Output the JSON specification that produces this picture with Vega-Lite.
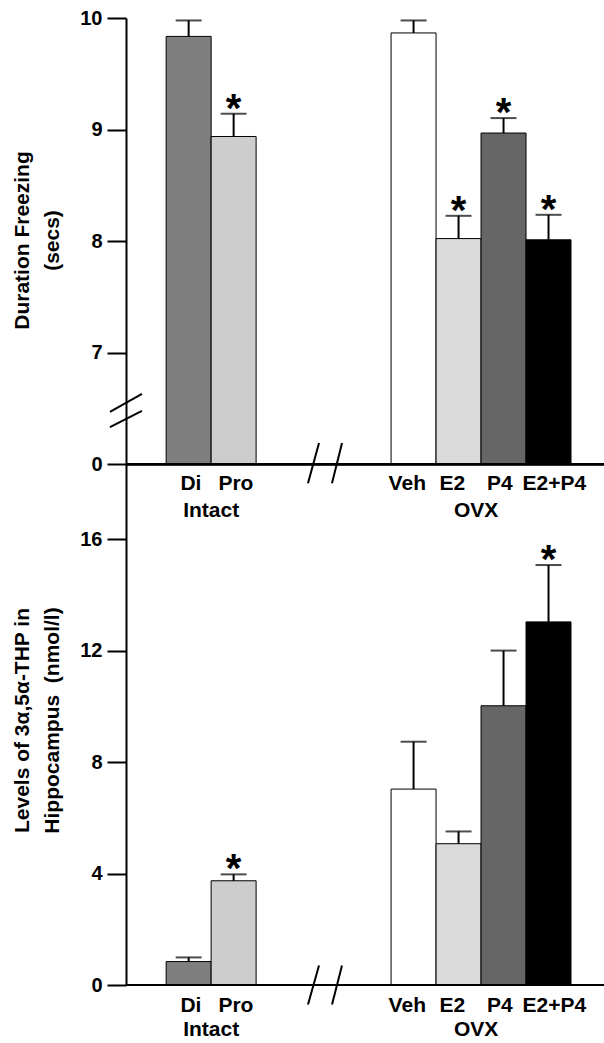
{
  "$schema": "https://vega.github.io/schema/vega-lite/v6.json",
  "width": 478,
  "height": 967,
  "autosize": {"type": "none"},
  "padding": {"left": 126, "top": 18, "right": 0, "bottom": 58},
  "background": "white",
  "config": {"view": {"stroke": null}, "font": "Liberation Sans"},
  "datasets": {
    "freeze": [
      {"cat": "Di", "mean": 9.835, "upper": 9.978, "sig": ""},
      {"cat": "Pro", "mean": 8.938, "upper": 9.142, "sig": "*"},
      {"cat": "Veh", "mean": 9.866, "upper": 9.978, "sig": ""},
      {"cat": "E2", "mean": 8.023, "upper": 8.227, "sig": "*"},
      {"cat": "P4", "mean": 8.969, "upper": 9.103, "sig": "*"},
      {"cat": "E2+P4", "mean": 8.012, "upper": 8.236, "sig": "*"}
    ],
    "thp": [
      {"cat": "Di", "mean": 0.84, "upper": 0.99, "sig": ""},
      {"cat": "Pro", "mean": 3.74, "upper": 3.97, "sig": "*"},
      {"cat": "Veh", "mean": 7.03, "upper": 8.73, "sig": ""},
      {"cat": "E2", "mean": 5.07, "upper": 5.51, "sig": ""},
      {"cat": "P4", "mean": 10.02, "upper": 12.0, "sig": ""},
      {"cat": "E2+P4", "mean": 13.03, "upper": 15.07, "sig": "*"}
    ]
  },
  "resolve": {"scale": {"y": "independent"}},
  "layer": [
    {
      "data": {"name": "freeze"},
      "layer": [
        {
          "mark": {"type": "bar", "stroke": "black", "strokeWidth": 1},
          "encoding": {
            "x": {"field": "cat", "type": "nominal", "axis": null,
              "scale": {"domain": ["Di", "Pro", "s1", "s2", "s3", "Veh", "E2", "P4", "E2+P4"], "paddingInner": 0, "paddingOuter": 0.813, "align": 0.549}},
            "y": {"field": "mean", "type": "quantitative",
              "scale": {"domain": [1.333, 10], "zero": false, "nice": false},
              "axis": {"orient": "left", "values": [6, 7, 8, 9, 10], "format": "d", "labelExpr": "datum.value == 6 ? '0' : datum.label",
                "title": ["Duration Freezing", "(secs)"], "titleX": -104, "titleY": 222, "titleAngle": -90, "titleAlign": "center", "titleBaseline": "middle",
                "titleFontSize": 21, "titleFontWeight": "bold", "titleLineHeight": 30, "titleColor": "black",
                "labelFontSize": 20, "labelFontWeight": "bold", "labelColor": "black", "labelPadding": 5,
                "tickSize": 19, "tickWidth": 2, "tickColor": "black", "domainColor": "black", "domainWidth": 2, "grid": false}},
            "y2": {"datum": 6},
            "color": {"field": "cat", "type": "nominal", "legend": null,
              "scale": {"domain": ["Di", "Pro", "Veh", "E2", "P4", "E2+P4"], "range": ["#7f7f7f", "#cdcdcd", "#ffffff", "#dadada", "#666666", "#000000"]}}
          }
        },
        {
          "mark": {"type": "rule", "strokeWidth": 2, "color": "black"},
          "encoding": {
            "x": {"field": "cat", "type": "nominal"},
            "y": {"field": "mean", "type": "quantitative"},
            "y2": {"field": "upper"}
          }
        },
        {
          "mark": {"type": "tick", "orient": "horizontal", "size": 26, "thickness": 2, "color": "black"},
          "encoding": {
            "x": {"field": "cat", "type": "nominal"},
            "y": {"field": "upper", "type": "quantitative"}
          }
        },
        {
          "mark": {"type": "text", "fontSize": 40, "fontWeight": "bold", "baseline": "alphabetic", "dy": 8, "color": "black"},
          "encoding": {
            "x": {"field": "cat", "type": "nominal"},
            "y": {"field": "upper", "type": "quantitative"},
            "text": {"field": "sig"}
          }
        },
        {
          "mark": {"type": "rule", "strokeWidth": 2, "color": "black"},
          "encoding": {"y": {"datum": 6}}
        },
        {
          "transform": [{"filter": "datum.cat == 'Di' || datum.cat == 'Pro'"}],
          "mark": {"type": "text", "fontSize": 21, "fontWeight": "bold", "baseline": "middle", "dy": 20, "color": "black"},
          "encoding": {
            "x": {"field": "cat", "type": "nominal", "bandPosition": 0.55},
            "y": {"datum": 6},
            "text": {"field": "cat"}
          }
        },
        {
          "transform": [{"filter": "datum.cat == 'Veh' || datum.cat == 'E2'"}],
          "mark": {"type": "text", "fontSize": 21, "fontWeight": "bold", "baseline": "middle", "dy": 20, "color": "black"},
          "encoding": {
            "x": {"field": "cat", "type": "nominal", "bandPosition": 0.36},
            "y": {"datum": 6},
            "text": {"field": "cat"}
          }
        },
        {
          "transform": [{"filter": "datum.cat == 'P4'"}],
          "mark": {"type": "text", "fontSize": 21, "fontWeight": "bold", "baseline": "middle", "dy": 20, "color": "black"},
          "encoding": {
            "x": {"field": "cat", "type": "nominal", "bandPosition": 0.42},
            "y": {"datum": 6},
            "text": {"field": "cat"}
          }
        },
        {
          "transform": [{"filter": "datum.cat == 'E2+P4'"}],
          "mark": {"type": "text", "fontSize": 21, "fontWeight": "bold", "baseline": "middle", "dy": 20, "color": "black"},
          "encoding": {
            "x": {"field": "cat", "type": "nominal", "bandPosition": 0.63},
            "y": {"datum": 6},
            "text": {"field": "cat"}
          }
        },
        {
          "data": {"values": [{}]},
          "mark": {"type": "text", "fontSize": 21, "fontWeight": "bold", "baseline": "middle", "dy": 47, "color": "black"},
          "encoding": {
            "x": {"datum": "Pro", "bandPosition": 0},
            "y": {"datum": 6},
            "text": {"value": "Intact"}
          }
        },
        {
          "data": {"values": [{}]},
          "mark": {"type": "text", "fontSize": 21, "fontWeight": "bold", "baseline": "middle", "dy": 47, "color": "black"},
          "encoding": {
            "x": {"datum": "P4", "bandPosition": -0.11},
            "y": {"datum": 6},
            "text": {"value": "OVX"}
          }
        },
        {
          "data": {"values": [{}]},
          "mark": {"type": "rule", "strokeWidth": 2, "color": "black"},
          "encoding": {
            "x": {"datum": "s2", "bandPosition": 0.153},
            "x2": {"datum": "s2", "bandPosition": 0.398},
            "y": {"datum": 5.83},
            "y2": {"datum": 6.19}
          }
        },
        {
          "data": {"values": [{}]},
          "mark": {"type": "rule", "strokeWidth": 2, "color": "black"},
          "encoding": {
            "x": {"datum": "s2", "bandPosition": 0.687},
            "x2": {"datum": "s2", "bandPosition": 0.909},
            "y": {"datum": 5.83},
            "y2": {"datum": 6.19}
          }
        },
        {
          "data": {"values": [{}]},
          "mark": {"type": "rule", "strokeWidth": 2, "color": "black"},
          "encoding": {
            "x": {"datum": "Di", "bandPosition": -1.249},
            "x2": {"datum": "Di", "bandPosition": -0.538},
            "y": {"datum": 6.469},
            "y2": {"datum": 6.631}
          }
        },
        {
          "data": {"values": [{}]},
          "mark": {"type": "rule", "strokeWidth": 2, "color": "black"},
          "encoding": {
            "x": {"datum": "Di", "bandPosition": -1.249},
            "x2": {"datum": "Di", "bandPosition": -0.538},
            "y": {"datum": 6.334},
            "y2": {"datum": 6.478}
          }
        }
      ]
    },
    {
      "data": {"name": "thp"},
      "layer": [
        {
          "mark": {"type": "bar", "stroke": "black", "strokeWidth": 1},
          "encoding": {
            "x": {"field": "cat", "type": "nominal"},
            "y": {"field": "mean", "type": "quantitative",
              "scale": {"domain": [0, 34.7], "nice": false},
              "axis": {"orient": "left", "values": [0, 4, 8, 12, 16], "domain": false,
                "title": ["Levels of 3α,5α-THP in", "Hippocampus\u00a0\u00a0(nmol/l)"], "titleX": -104, "titleY": 702, "titleAngle": -90, "titleAlign": "center", "titleBaseline": "middle",
                "titleFontSize": 21, "titleFontWeight": "bold", "titleLineHeight": 30, "titleColor": "black",
                "labelFontSize": 20, "labelFontWeight": "bold", "labelColor": "black", "labelPadding": 5,
                "tickSize": 19, "tickWidth": 2, "tickColor": "black", "grid": false}},
            "color": {"field": "cat", "type": "nominal", "legend": null}
          }
        },
        {
          "mark": {"type": "rule", "strokeWidth": 2, "color": "black"},
          "encoding": {
            "x": {"field": "cat", "type": "nominal"},
            "y": {"field": "mean", "type": "quantitative"},
            "y2": {"field": "upper"}
          }
        },
        {
          "mark": {"type": "tick", "orient": "horizontal", "size": 26, "thickness": 2, "color": "black"},
          "encoding": {
            "x": {"field": "cat", "type": "nominal"},
            "y": {"field": "upper", "type": "quantitative"}
          }
        },
        {
          "mark": {"type": "text", "fontSize": 40, "fontWeight": "bold", "baseline": "alphabetic", "dy": 8, "color": "black"},
          "encoding": {
            "x": {"field": "cat", "type": "nominal"},
            "y": {"field": "upper", "type": "quantitative"},
            "text": {"field": "sig"}
          }
        },
        {
          "mark": {"type": "rule", "strokeWidth": 2, "color": "black"},
          "encoding": {"y": {"datum": 0}}
        },
        {
          "transform": [{"filter": "datum.cat == 'Di' || datum.cat == 'Pro'"}],
          "mark": {"type": "text", "fontSize": 21, "fontWeight": "bold", "baseline": "middle", "dy": 21, "color": "black"},
          "encoding": {
            "x": {"field": "cat", "type": "nominal", "bandPosition": 0.55},
            "y": {"datum": 0},
            "text": {"field": "cat"}
          }
        },
        {
          "transform": [{"filter": "datum.cat == 'Veh' || datum.cat == 'E2'"}],
          "mark": {"type": "text", "fontSize": 21, "fontWeight": "bold", "baseline": "middle", "dy": 21, "color": "black"},
          "encoding": {
            "x": {"field": "cat", "type": "nominal", "bandPosition": 0.36},
            "y": {"datum": 0},
            "text": {"field": "cat"}
          }
        },
        {
          "transform": [{"filter": "datum.cat == 'P4'"}],
          "mark": {"type": "text", "fontSize": 21, "fontWeight": "bold", "baseline": "middle", "dy": 21, "color": "black"},
          "encoding": {
            "x": {"field": "cat", "type": "nominal", "bandPosition": 0.42},
            "y": {"datum": 0},
            "text": {"field": "cat"}
          }
        },
        {
          "transform": [{"filter": "datum.cat == 'E2+P4'"}],
          "mark": {"type": "text", "fontSize": 21, "fontWeight": "bold", "baseline": "middle", "dy": 21, "color": "black"},
          "encoding": {
            "x": {"field": "cat", "type": "nominal", "bandPosition": 0.63},
            "y": {"datum": 0},
            "text": {"field": "cat"}
          }
        },
        {
          "data": {"values": [{}]},
          "mark": {"type": "text", "fontSize": 21, "fontWeight": "bold", "baseline": "middle", "dy": 45, "color": "black"},
          "encoding": {
            "x": {"datum": "Pro", "bandPosition": 0},
            "y": {"datum": 0},
            "text": {"value": "Intact"}
          }
        },
        {
          "data": {"values": [{}]},
          "mark": {"type": "text", "fontSize": 21, "fontWeight": "bold", "baseline": "middle", "dy": 45, "color": "black"},
          "encoding": {
            "x": {"datum": "P4", "bandPosition": -0.11},
            "y": {"datum": 0},
            "text": {"value": "OVX"}
          }
        },
        {
          "data": {"values": [{}]},
          "mark": {"type": "rule", "strokeWidth": 2, "color": "black"},
          "encoding": {
            "x": {"datum": "s2", "bandPosition": 0.153},
            "x2": {"datum": "s2", "bandPosition": 0.398},
            "y": {"datum": -0.7},
            "y2": {"datum": 0.7}
          }
        },
        {
          "data": {"values": [{}]},
          "mark": {"type": "rule", "strokeWidth": 2, "color": "black"},
          "encoding": {
            "x": {"datum": "s2", "bandPosition": 0.687},
            "x2": {"datum": "s2", "bandPosition": 0.909},
            "y": {"datum": -0.7},
            "y2": {"datum": 0.7}
          }
        }
      ]
    }
  ]
}
